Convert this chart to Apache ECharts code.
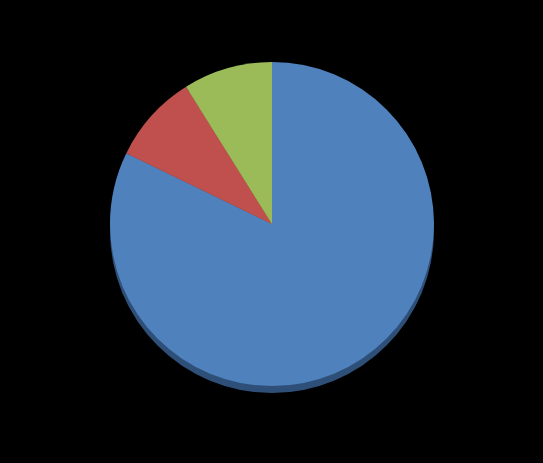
<!DOCTYPE html>
<html>
<head>
<meta charset="utf-8">
<script src="https://cdn.jsdelivr.net/npm/echarts@6/dist/echarts.min.js"></script>
<style>
html,body{margin:0;padding:0;background:#000;}
#chart{width:543px;height:463px;}
</style>
</head>
<body>
<div id="chart"></div>
<script>
var categories = ['Blue', 'Red', 'Green'];
var values = [82.2, 8.9, 8.9];
var faceColors = ['#4F81BD', '#C0504D', '#9BBB59'];
var edgeColors = ['#2E4F78', '#7A302E', '#5F7535'];

var chart = echarts.init(document.getElementById('chart'));
var data = categories.map(function (c, i) { return { name: c, value: values[i] }; });
chart.setOption({
  backgroundColor: '#000000',
  animation: false,
  series: [
    {
      type: 'pie',
      z: 1,
      center: [272, 231],
      radius: [0, 162],
      startAngle: 90,
      clockwise: true,
      label: { show: false },
      labelLine: { show: false },
      silent: true,
      itemStyle: {
        color: function (p) { return edgeColors[p.dataIndex]; },
        borderWidth: 0
      },
      data: data
    },
    {
      type: 'pie',
      z: 2,
      center: [272, 224],
      radius: [0, 162],
      startAngle: 90,
      clockwise: true,
      label: { show: false },
      labelLine: { show: false },
      itemStyle: {
        color: function (p) { return faceColors[p.dataIndex]; },
        borderWidth: 0
      },
      data: data
    }
  ]
});
</script>
</body>
</html>
